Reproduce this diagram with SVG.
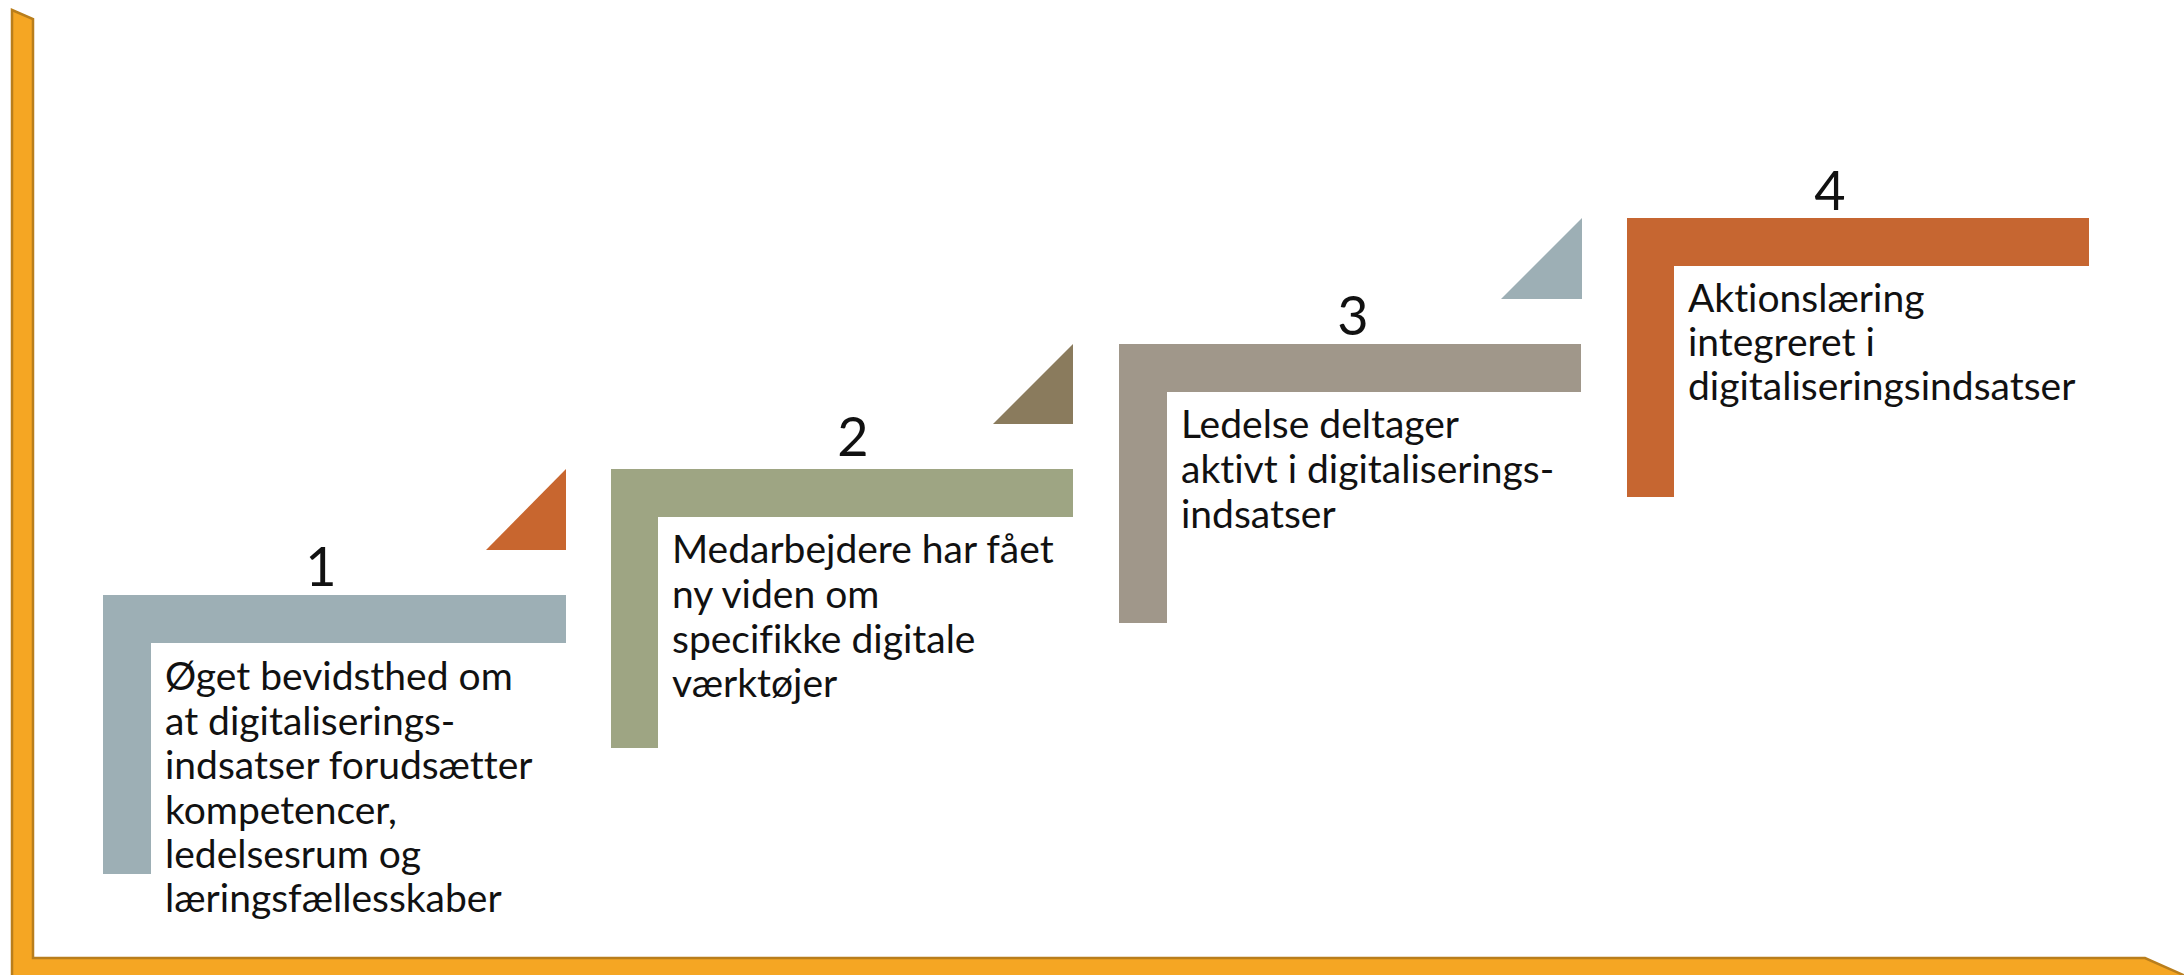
<svg xmlns="http://www.w3.org/2000/svg" width="2184" height="975" viewBox="0 0 2184 975">
  <style>
    .txt { font-family: Lato, "Liberation Sans", sans-serif; font-size: 39px; fill: #111; font-variant-ligatures: none; }
    .num { font-family: Lato, "Liberation Sans", sans-serif; font-size: 54px; fill: #111; text-anchor: middle; }
    .frame { fill: #F5A623; stroke: #B97E1C; stroke-width: 2.5; stroke-linejoin: miter; }
  </style>
  <rect width="2184" height="975" fill="#FFFFFF"/>
  <g id="frame">
    <path class="frame" d="M12,10 L33,19 L33,958 L2145,958 L2190,978 L12,978 Z"/>
  </g>
  <g id="step1">
    <path d="M103,595 H566 V643 H151 V874 H103 Z" fill="#9DAFB5"/>
    <text class="num" x="321" y="586">1</text>
    <text class="txt" x="165" y="690">Øget bevidsthed om</text>
    <text class="txt" x="165" y="735">at digitaliserings-</text>
    <text class="txt" x="165" y="779">indsatser forudsætter</text>
    <text class="txt" x="165" y="824">kompetencer,</text>
    <text class="txt" x="165" y="868">ledelsesrum og</text>
    <text class="txt" x="165" y="912">læringsfællesskaber</text>
  </g>
  <g id="tri1">
    <polygon points="486,550 566,550 566,469" fill="#C8662F"/>
  </g>
  <g id="step2">
    <path d="M611,469 H1073 V517 H658 V748 H611 Z" fill="#9EA583"/>
    <text class="num" x="853" y="456">2</text>
    <text class="txt" x="672" y="563">Medarbejdere har fået</text>
    <text class="txt" x="672" y="608">ny viden om</text>
    <text class="txt" x="672" y="653">specifikke digitale</text>
    <text class="txt" x="672" y="697">værktøjer</text>
  </g>
  <g id="tri2">
    <polygon points="993,424 1073,424 1073,344" fill="#8A7B5D"/>
  </g>
  <g id="step3">
    <path d="M1119,344 H1581 V392 H1167 V623 H1119 Z" fill="#A0978A"/>
    <text class="num" x="1353" y="335">3</text>
    <text class="txt" x="1181" y="438">Ledelse deltager</text>
    <text class="txt" x="1181" y="483">aktivt i digitaliserings-</text>
    <text class="txt" x="1181" y="528">indsatser</text>
  </g>
  <g id="tri3">
    <polygon points="1501,299 1582,299 1582,218" fill="#9DAFB5"/>
  </g>
  <g id="step4">
    <path d="M1627,218 H2089 V266 H1674 V497 H1627 Z" fill="#C66631"/>
    <text class="num" x="1830" y="210">4</text>
    <text class="txt" x="1688" y="312">Aktionslæring</text>
    <text class="txt" x="1688" y="356">integreret i</text>
    <text class="txt" x="1688" y="400">digitaliseringsindsatser</text>
  </g>
</svg>
